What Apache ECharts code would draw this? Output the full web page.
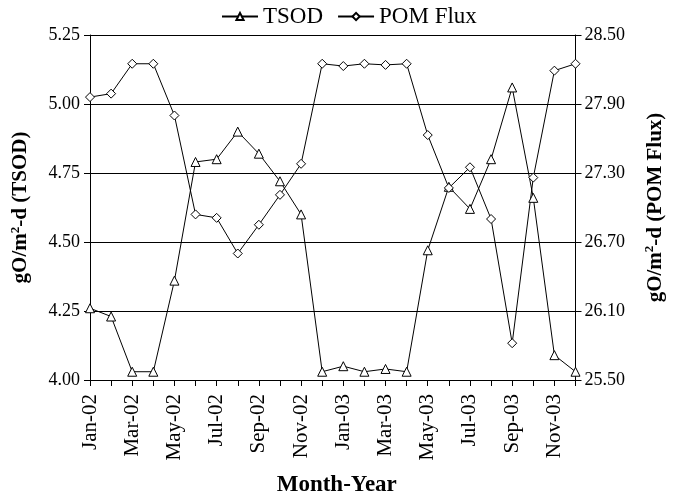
<!DOCTYPE html>
<html><head><meta charset="utf-8">
<script src="https://cdn.jsdelivr.net/npm/echarts@6/dist/echarts.min.js"></script>
<style>html,body{margin:0;padding:0;background:#fff}#c{width:674px;height:502px}</style>
</head><body><div id="c"></div>
<script>
const months = ['Jan-02','Feb-02','Mar-02','Apr-02','May-02','Jun-02','Jul-02','Aug-02','Sep-02','Oct-02','Nov-02','Dec-02',
                'Jan-03','Feb-03','Mar-03','Apr-03','May-03','Jun-03','Jul-03','Aug-03','Sep-03','Oct-03','Nov-03','Dec-03'];
const tsod = [4.26,4.23,4.03,4.03,4.36,4.79,4.80,4.90,4.82,4.72,4.60,4.03,
              4.05,4.03,4.04,4.03,4.47,4.70,4.62,4.80,5.06,4.66,4.09,4.03];
const pomFlux = [27.96,27.99,28.25,28.25,27.80,26.94,26.91,26.60,26.85,27.11,27.38,28.25,
                 28.23,28.25,28.24,28.25,27.63,27.17,27.35,26.90,25.82,27.26,28.19,28.25];
const tsodTicks = [4.00,4.25,4.50,4.75,5.00,5.25];
const pomTicks = [25.50,26.10,26.70,27.30,27.90,28.50];

const FONT = '"Liberation Serif", "Times New Roman", serif';
const black = '#000';
const chart = echarts.init(document.getElementById('c'), null, {renderer:'canvas'});
const lineCommon = {
  type:'line', symbolSize:9, showSymbol:true,
  lineStyle:{color:black,width:1},
  itemStyle:{color:'#fff',borderColor:black,borderWidth:1},
  emphasis:{disabled:true}, animation:false, z:3
};
const nameRich = {
  n:{fontFamily:FONT,fontSize:21,fontWeight:'bold',color:black,lineHeight:24},
  s:{fontFamily:FONT,fontSize:13,fontWeight:'bold',color:black,verticalAlign:'top',lineHeight:24,padding:[0,0,4,0]}
};
chart.setOption({
  animation:false,
  textStyle:{fontFamily:FONT,color:black},
  legend:{
    top:0, left:216,
    itemWidth:36, itemHeight:9, itemGap:14,
    textStyle:{fontFamily:FONT,fontSize:23,color:black},
    data:['TSOD','POM Flux']
  },
  grid:{left:90,right:91,top:35,bottom:120.5,containLabel:false},
  xAxis:{
    type:'category', data:months, boundaryGap:false,
    axisLine:{lineStyle:{color:black,width:1}},
    axisTick:{show:true,interval:0,length:6,lineStyle:{color:black}},
    axisLabel:{interval:1,rotate:90,margin:14,fontFamily:FONT,fontSize:21,color:black},
    name:'Month-Year', nameLocation:'middle', nameGap:94,
    nameTextStyle:{fontFamily:FONT,fontSize:23,fontWeight:'bold',color:black,padding:[0,0,0,8]},
    splitLine:{show:false}
  },
  yAxis:[{
    type:'value', min:tsodTicks[0], max:tsodTicks[tsodTicks.length-1], interval:tsodTicks[1]-tsodTicks[0],
    axisLine:{show:true,lineStyle:{color:black,width:1}},
    axisTick:{show:true,length:6,lineStyle:{color:black}},
    axisLabel:{formatter:v=>v.toFixed(2),fontFamily:FONT,fontSize:18,color:black,margin:10},
    splitLine:{show:true,lineStyle:{color:black,width:1}},
    name:'{n|gO/m}{s|2}{n|-d (TSOD)}', nameLocation:'middle', nameGap:57, nameRotate:90,
    nameTextStyle:{fontFamily:FONT,fontSize:21,fontWeight:'bold',color:black,rich:nameRich}
  },{
    type:'value', position:'right', min:pomTicks[0], max:pomTicks[pomTicks.length-1],
    axisLine:{show:true,lineStyle:{color:black,width:1}},
    axisTick:{show:true,length:6,customValues:pomTicks,lineStyle:{color:black}},
    axisLabel:{customValues:pomTicks,formatter:v=>v.toFixed(2),fontFamily:FONT,fontSize:18,color:black,margin:9},
    splitLine:{show:false},
    name:'{n|gO/m}{s|2}{n|-d (POM Flux)}', nameLocation:'middle', nameGap:68, nameRotate:90,
    nameTextStyle:{fontFamily:FONT,fontSize:21,fontWeight:'bold',color:black,rich:nameRich}
  }],
  series:[
    Object.assign({},lineCommon,{name:'TSOD',data:tsod,yAxisIndex:0,symbol:'triangle'}),
    Object.assign({},lineCommon,{name:'POM Flux',data:pomFlux,yAxisIndex:1,symbol:'diamond'})
  ]
});
</script></body></html>
